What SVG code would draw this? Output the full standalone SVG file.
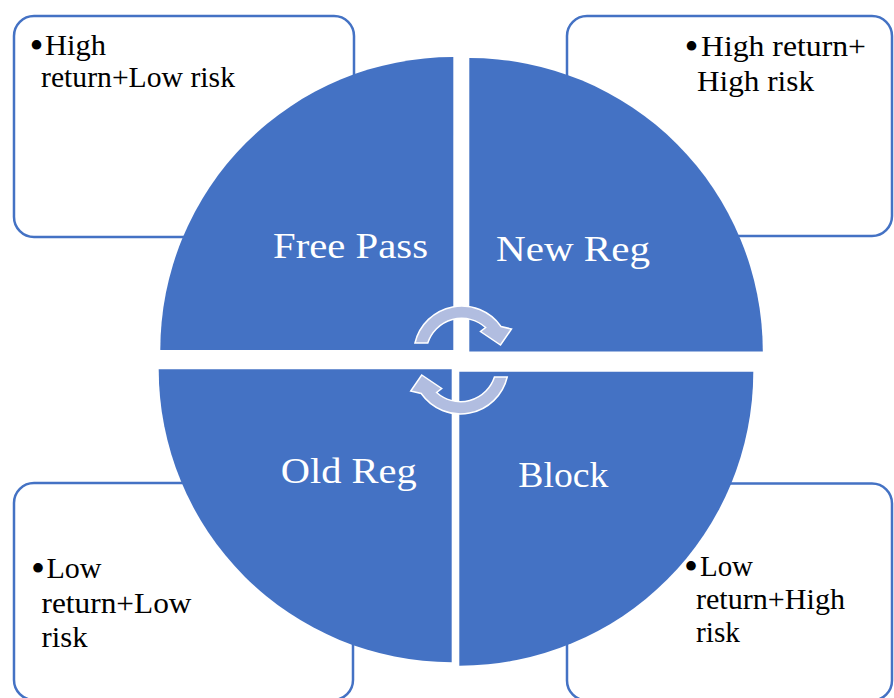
<svg xmlns="http://www.w3.org/2000/svg" width="894" height="698" viewBox="0 0 894 698">
  <style>
    .box { fill: #FFFFFF; stroke: #4472C4; stroke-width: 2.5; }
    .quad { fill: #4472C4; }
    .lbl { font-family: "Liberation Serif", "Times New Roman", serif; font-size: 36px; fill: #FFFFFF; }
    .txt { font-family: "Liberation Serif", "Times New Roman", serif; font-size: 29px; fill: #000000; }
    .bul { font-family: "Liberation Serif", "Times New Roman", serif; font-size: 40px; fill: #000000; }
    .arr { fill: #B1BDE0; stroke: #FFFFFF; stroke-width: 1.5; stroke-linejoin: miter; }
  </style>
  <rect width="894" height="698" fill="#FFFFFF"/>

  <g id="box-tl">
    <rect class="box" x="14" y="16" width="340" height="221" rx="20"/>
    <text class="bul" x="29.5" y="58.5">•</text>
    <text class="txt" x="45" y="55" textLength="61" lengthAdjust="spacingAndGlyphs">High</text>
    <text class="txt" x="41" y="87" textLength="194" lengthAdjust="spacingAndGlyphs">return+Low risk</text>
  </g>
  <g id="box-tr">
    <rect class="box" x="567" y="16" width="325" height="220" rx="20"/>
    <text class="bul" x="684.5" y="59.5">•</text>
    <text class="txt" x="701" y="56" textLength="165" lengthAdjust="spacingAndGlyphs">High return+</text>
    <text class="txt" x="697" y="91" textLength="117" lengthAdjust="spacingAndGlyphs">High risk</text>
  </g>
  <g id="box-bl">
    <rect class="box" x="14" y="483" width="339" height="217" rx="20"/>
    <text class="bul" x="31" y="581.5">•</text>
    <text class="txt" x="46.5" y="578" textLength="55" lengthAdjust="spacingAndGlyphs">Low</text>
    <text class="txt" x="41.5" y="612.5" textLength="150" lengthAdjust="spacingAndGlyphs">return+Low</text>
    <text class="txt" x="41.5" y="646.5" textLength="46" lengthAdjust="spacingAndGlyphs">risk</text>
  </g>
  <g id="box-br">
    <rect class="box" x="567" y="483.5" width="325" height="217" rx="20"/>
    <text class="bul" x="684" y="579.5">•</text>
    <text class="txt" x="700" y="576" textLength="53" lengthAdjust="spacingAndGlyphs">Low</text>
    <text class="txt" x="696" y="608.5" textLength="149" lengthAdjust="spacingAndGlyphs">return+High</text>
    <text class="txt" x="696" y="641.5" textLength="44" lengthAdjust="spacingAndGlyphs">risk</text>
  </g>

  <g id="free-pass">
    <path class="quad" d="M 453.3 350 L 160.3 350 A 293 293 0 0 1 453.3 57 Z"/>
    <text class="lbl" x="273" y="258.3" textLength="155" lengthAdjust="spacingAndGlyphs">Free Pass</text>
  </g>
  <g id="new-reg">
    <path class="quad" d="M 469.3 351.5 L 469.3 58 A 293.5 293.5 0 0 1 762.8 351.5 Z"/>
    <text class="lbl" x="496" y="260.7" textLength="154" lengthAdjust="spacingAndGlyphs">New Reg</text>
  </g>
  <g id="old-reg">
    <path class="quad" d="M 451.7 369.2 L 451.7 662.2 A 293 293 0 0 1 158.7 369.2 Z"/>
    <text class="lbl" x="280.7" y="482.7" textLength="136" lengthAdjust="spacingAndGlyphs">Old Reg</text>
  </g>
  <g id="block">
    <path class="quad" d="M 459.3 371.7 L 753.3 371.7 A 294 294 0 0 1 459.3 665.7 Z"/>
    <text class="lbl" x="518.3" y="486.7" textLength="90" lengthAdjust="spacingAndGlyphs">Block</text>
  </g>

  <g id="connectors">
    <path id="arrow-top" class="arr" d="M 414.97 343 A 48 48 0 0 1 501.0 326.5 L 511.5 329 L 500.5 345 L 480.5 331.5 L 485.6 327.5 A 35.7 35.7 0 0 0 427.75 343 Z"/>
    <path id="arrow-bottom" class="arr" transform="rotate(180 461.1 360)" d="M 414.97 343 A 48 48 0 0 1 501.0 326.5 L 511.5 329 L 500.5 345 L 480.5 331.5 L 485.6 327.5 A 35.7 35.7 0 0 0 427.75 343 Z"/>
  </g>
</svg>
